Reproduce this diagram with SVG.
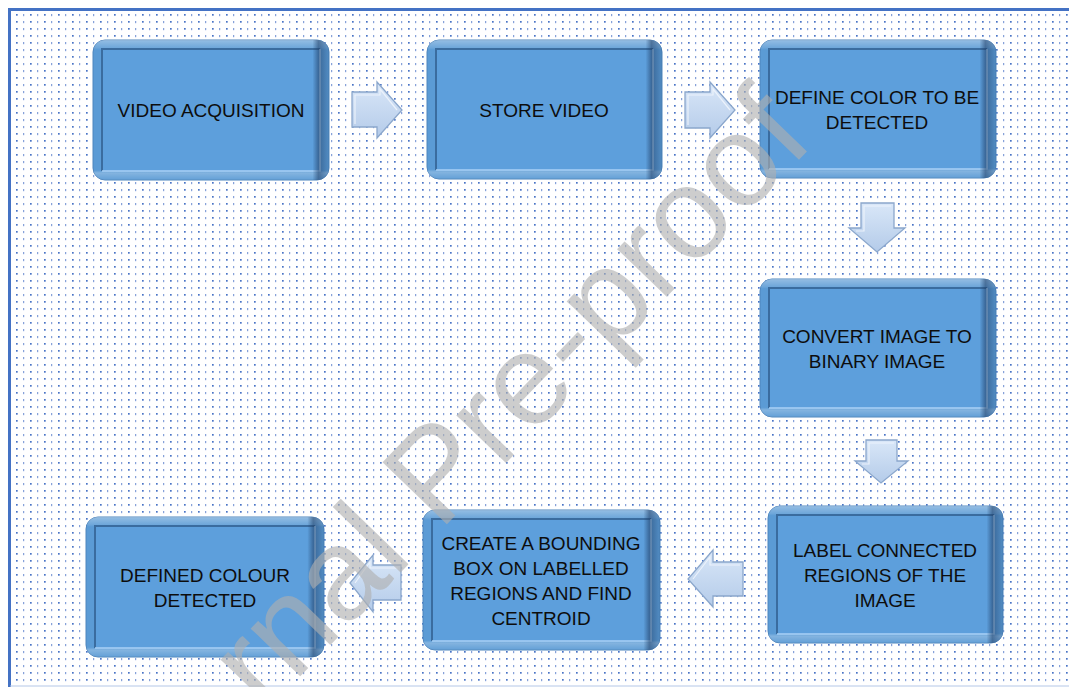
<svg xmlns="http://www.w3.org/2000/svg" width="1069" height="687" viewBox="0 0 1069 687">
<style>
.outer{fill:#5b9bd5;stroke:#4f86bd;stroke-width:1}
.rshade{fill:url(#rshade)}
.tshade{fill:url(#tshade)}
.inner{fill:#5d9fdc}
.dk{fill:none;stroke:#3a6c9f;stroke-width:2}
.lt{fill:none;stroke:#a9d1f6;stroke-width:1.6}
.lbl{font-family:"Liberation Sans",Arial,sans-serif;font-size:19px;fill:#0d0d0d;text-anchor:middle}
.arrow{fill:url(#agrad);stroke:#8ba7cc;stroke-width:1.3}
.abev{fill:none;stroke:#eef4fc;stroke-width:1.2;opacity:0.9}
.wm{font-family:"Liberation Sans",Arial,sans-serif;font-size:130px;fill:#b0b0b0;opacity:0.62;text-anchor:middle}
</style>
<defs>
<pattern id="dots" x="2" y="0" width="14" height="7" patternUnits="userSpaceOnUse">
<rect x="0" y="0" width="1.7" height="1.7" fill="#4a74c6"/>
<rect x="7.2" y="0" width="1" height="2.2" fill="#6a8bd0"/>
</pattern>
<linearGradient id="rshade" x1="0" y1="0" x2="1" y2="0">
<stop offset="0" stop-color="#1e3c64" stop-opacity="0"/>
<stop offset="0.93" stop-color="#1e3c64" stop-opacity="0"/>
<stop offset="0.955" stop-color="#1e3c64" stop-opacity="0.55"/>
<stop offset="1" stop-color="#1e3c64" stop-opacity="0.15"/>
</linearGradient>
<linearGradient id="tshade" x1="0" y1="0" x2="0" y2="1">
<stop offset="0" stop-color="#ffffff" stop-opacity="0.35"/>
<stop offset="0.055" stop-color="#ffffff" stop-opacity="0.12"/>
<stop offset="0.07" stop-color="#ffffff" stop-opacity="0"/>
<stop offset="0.93" stop-color="#ffffff" stop-opacity="0"/>
<stop offset="0.95" stop-color="#ffffff" stop-opacity="0.25"/>
<stop offset="1" stop-color="#ffffff" stop-opacity="0.05"/>
</linearGradient>
<linearGradient id="agrad" x1="0" y1="0" x2="0" y2="1">
<stop offset="0" stop-color="#d9e7f8"/>
<stop offset="1" stop-color="#b4cbe9"/>
</linearGradient>
</defs>

<rect x="0" y="0" width="1069" height="687" fill="#ffffff"/>
<rect x="10" y="10" width="1059" height="676" fill="url(#dots)"/>
<line x1="8" y1="9.5" x2="1069" y2="9.5" stroke="#4472c4" stroke-width="3"/>
<line x1="9.5" y1="8" x2="9.5" y2="687" stroke="#4472c4" stroke-width="3"/>
<line x1="10" y1="686" x2="1069" y2="686" stroke="#b4c7e7" stroke-width="1"/>

<g id="connectors">
<path class="arrow" d="M352,92 L377,92 L377,82 L402,110 L377,138 L377,127 L352,127 Z"/>
<path class="abev" d="M355,124 L355,95 L380,95 L380,89 L397,110"/>
<path class="arrow" d="M685,92 L710,92 L710,82 L735,110 L710,138 L710,128 L685,128 Z"/>
<path class="abev" d="M688,125 L688,95 L713,95 L713,89 L730,110"/>
<path class="arrow" d="M861,203 L894,203 L894,228 L905,228 L877,252 L849,228 L861,228 Z"/>
<path class="abev" d="M856,231 L864,231 L864,206 L891,206"/>
<path class="arrow" d="M866,440 L897,440 L897,461 L908,461 L881,483 L855,461 L866,461 Z"/>
<path class="abev" d="M862,464 L869,464 L869,443 L894,443"/>
<path class="arrow" d="M743,562 L713,562 L713,550 L688,579 L713,607 L713,596 L743,596 Z"/>
<path class="abev" d="M693,579 L710,557 L710,565 L740,565"/>
<path class="arrow" d="M401,565 L373,565 L373,555 L350,583 L373,612 L373,600 L401,600 Z"/>
<path class="abev" d="M355,583 L370,562 L370,568 L398,568"/>
</g>

<g id="n1">
<rect class="outer" x="93" y="40" width="236" height="140" rx="12"/>
<rect class="tshade" x="93" y="40" width="236" height="140" rx="12"/>
<rect class="inner" x="102" y="49" width="218" height="122" rx="3"/>
<path class="dk" d="M102,171 L102,49 L320,49"/>
<path class="lt" d="M102,171 L320,171 L320,49"/>
<rect class="rshade" x="93" y="40" width="236" height="140" rx="12"/>
<text class="lbl" x="211" y="117">VIDEO ACQUISITION</text>
</g>

<g id="n2">
<rect class="outer" x="427" y="40" width="235" height="139" rx="12"/>
<rect class="tshade" x="427" y="40" width="235" height="139" rx="12"/>
<rect class="inner" x="436" y="49" width="217" height="121" rx="3"/>
<path class="dk" d="M436,170 L436,49 L653,49"/>
<path class="lt" d="M436,170 L653,170 L653,49"/>
<rect class="rshade" x="427" y="40" width="235" height="139" rx="12"/>
<text class="lbl" x="544" y="117">STORE VIDEO</text>
</g>

<g id="n3">
<rect class="outer" x="760" y="40" width="236" height="138" rx="12"/>
<rect class="tshade" x="760" y="40" width="236" height="138" rx="12"/>
<rect class="inner" x="769" y="49" width="218" height="120" rx="3"/>
<path class="dk" d="M769,169 L769,49 L987,49"/>
<path class="lt" d="M769,169 L987,169 L987,49"/>
<rect class="rshade" x="760" y="40" width="236" height="138" rx="12"/>
<text class="lbl" x="877" y="104">DEFINE COLOR TO BE</text>
<text class="lbl" x="877" y="129">DETECTED</text>
</g>

<g id="n4">
<rect class="outer" x="760" y="279" width="236" height="138" rx="12"/>
<rect class="tshade" x="760" y="279" width="236" height="138" rx="12"/>
<rect class="inner" x="769" y="288" width="218" height="120" rx="3"/>
<path class="dk" d="M769,408 L769,288 L987,288"/>
<path class="lt" d="M769,408 L987,408 L987,288"/>
<rect class="rshade" x="760" y="279" width="236" height="138" rx="12"/>
<text class="lbl" x="877" y="343">CONVERT IMAGE TO</text>
<text class="lbl" x="877" y="368">BINARY IMAGE</text>
</g>

<g id="n5">
<rect class="outer" x="768" y="506" width="235" height="137" rx="12"/>
<rect class="tshade" x="768" y="506" width="235" height="137" rx="12"/>
<rect class="inner" x="777" y="515" width="217" height="119" rx="3"/>
<path class="dk" d="M777,634 L777,515 L994,515"/>
<path class="lt" d="M777,634 L994,634 L994,515"/>
<rect class="rshade" x="768" y="506" width="235" height="137" rx="12"/>
<text class="lbl" x="885" y="557">LABEL CONNECTED</text>
<text class="lbl" x="885" y="582">REGIONS OF THE</text>
<text class="lbl" x="885" y="607">IMAGE</text>
</g>

<g id="n6">
<rect class="outer" x="423" y="510" width="237" height="140" rx="12"/>
<rect class="tshade" x="423" y="510" width="237" height="140" rx="12"/>
<rect class="inner" x="432" y="519" width="219" height="122" rx="3"/>
<path class="dk" d="M432,641 L432,519 L651,519"/>
<path class="lt" d="M432,641 L651,641 L651,519"/>
<rect class="rshade" x="423" y="510" width="237" height="140" rx="12"/>
<text class="lbl" x="541" y="550">CREATE A BOUNDING</text>
<text class="lbl" x="541" y="575">BOX ON LABELLED</text>
<text class="lbl" x="541" y="600">REGIONS AND FIND</text>
<text class="lbl" x="541" y="625">CENTROID</text>
</g>

<g id="n7">
<rect class="outer" x="86" y="517" width="238" height="140" rx="12"/>
<rect class="tshade" x="86" y="517" width="238" height="140" rx="12"/>
<rect class="inner" x="95" y="526" width="220" height="122" rx="3"/>
<path class="dk" d="M95,648 L95,526 L315,526"/>
<path class="lt" d="M95,648 L315,648 L315,526"/>
<rect class="rshade" x="86" y="517" width="238" height="140" rx="12"/>
<text class="lbl" x="205" y="582">DEFINED COLOUR</text>
<text class="lbl" x="205" y="607">DETECTED</text>
</g>

<text class="wm" transform="translate(540,428) rotate(-46)" x="0" y="0">rnal Pre-proof</text>
</svg>
